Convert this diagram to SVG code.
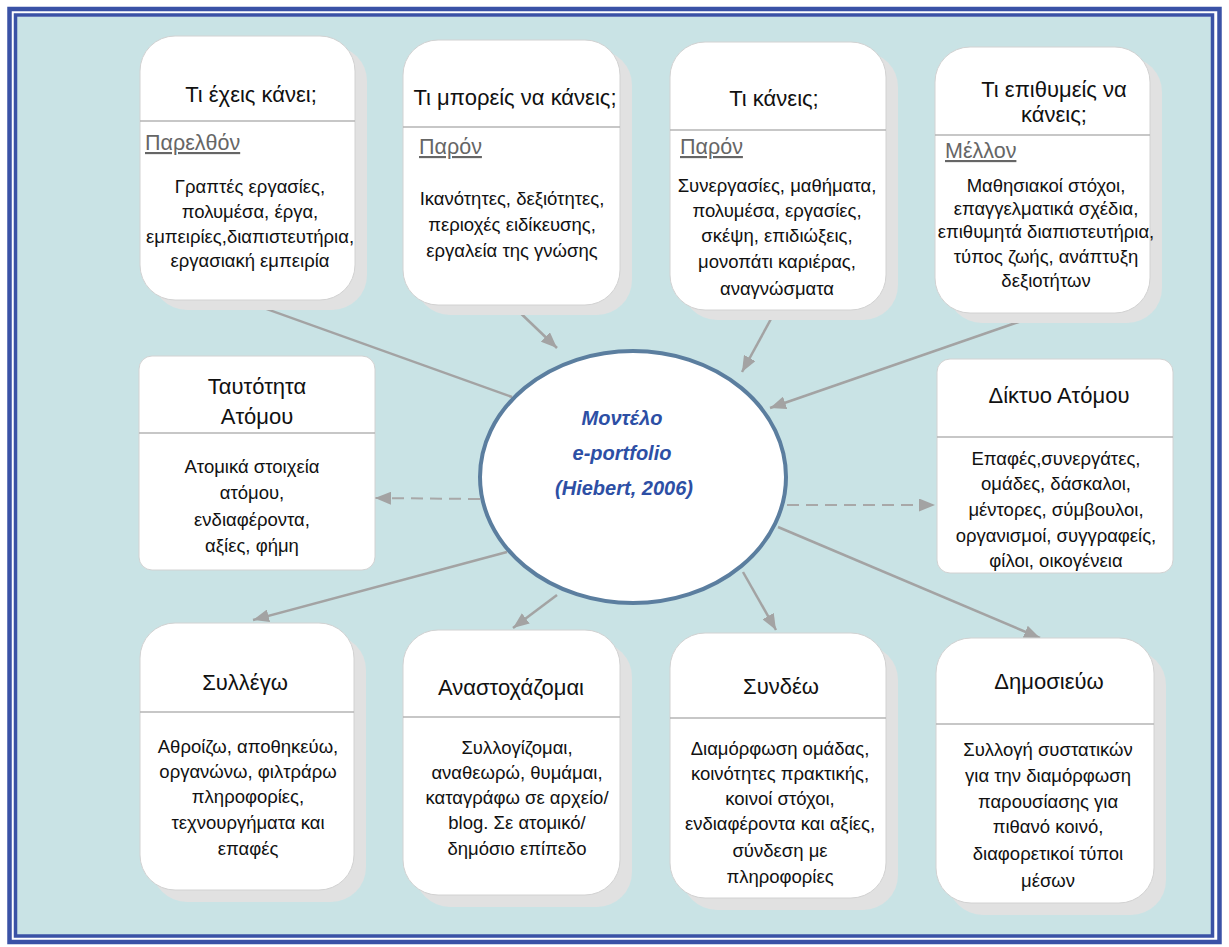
<svg xmlns="http://www.w3.org/2000/svg" width="1229" height="947" viewBox="0 0 1229 947">
<defs>
<style>
.bg{fill:#c9e3e5}
.frameO{fill:none;stroke:#3a52a6;stroke-width:4.5}
.frameI{fill:none;stroke:#3a52a6;stroke-width:3.5}
.shadow{fill:#e1e1e1}
.box{fill:#fff;stroke:#d2d2d2;stroke-width:1}
.div{stroke:#b4b4b4;stroke-width:1.5}
.t{font-family:"Liberation Sans",Arial,sans-serif;fill:#111}
.title{font-size:22px;text-anchor:middle}
.body{font-size:18.5px;text-anchor:middle}
.tag{font-size:21.5px;fill:#666;text-decoration:underline}
.conn{stroke:#a3a3a3;stroke-width:2.5;fill:none}
.dash{stroke:#a8a8a8;stroke-width:2;fill:none;stroke-dasharray:12 7}
.ell{fill:#fff;stroke:#5b7e9f;stroke-width:4}
.et{font-family:"Liberation Sans",Arial,sans-serif;font-size:20px;font-weight:bold;font-style:italic;fill:#2d4fa5;text-anchor:middle}
</style>
<marker id="ah" markerUnits="userSpaceOnUse" markerWidth="17" markerHeight="13" refX="16" refY="6.5" orient="auto">
<path d="M0,0 L16,6.5 L0,13 z" fill="#a3a3a3"/>
</marker>
</defs>
<rect width="1229" height="947" fill="#fff"/>
<rect class="bg" x="17" y="17" width="1195" height="920"/>
<rect class="frameO" x="9.5" y="9" width="1210" height="933"/>
<rect class="frameI" x="15.5" y="15" width="1197" height="921"/>

<g id="connectors">
<line class="conn" x1="247" y1="302" x2="512" y2="397"/>
<line class="conn" x1="512" y1="305" x2="557" y2="348" marker-end="url(#ah)"/>
<line class="conn" x1="777" y1="308" x2="742" y2="372" marker-end="url(#ah)"/>
<line class="conn" x1="1033" y1="317" x2="770" y2="408" marker-end="url(#ah)"/>
<line class="conn" x1="507" y1="552" x2="253" y2="620" marker-end="url(#ah)"/>
<line class="conn" x1="557" y1="595" x2="513" y2="628" marker-end="url(#ah)"/>
<line class="conn" x1="743" y1="572" x2="776" y2="630" marker-end="url(#ah)"/>
<line class="conn" x1="778" y1="527" x2="1040" y2="638" marker-end="url(#ah)"/>
<line class="dash" x1="480" y1="499" x2="375" y2="498" marker-end="url(#ah)"/>
<line class="dash" x1="787" y1="505" x2="935" y2="505" marker-end="url(#ah)"/>
</g>

<g id="center">
<ellipse class="ell" cx="633" cy="477" rx="153" ry="126"/>
<text class="et" x="622" y="425">Μοντέλο</text>
<text class="et" x="622" y="460">e-portfolio</text>
<text class="et" x="624" y="495">(Hiebert, 2006)</text>
</g>

<g id="n-past">
<rect class="shadow" x="152" y="46" width="215" height="264" rx="35"/>
<rect class="box" x="140" y="36" width="215" height="264" rx="35"/>
<line class="div" x1="140" y1="121" x2="355" y2="121"/>
<text class="t title" x="251" y="102">Τι έχεις κάνει;</text>
<text class="t tag" x="145" y="150">Παρελθόν</text>
<text class="t body" x="250"><tspan x="250" y="193">Γραπτές εργασίες,</tspan><tspan x="250" y="218">πολυμέσα, έργα,</tspan><tspan x="250" y="243">εμπειρίες,διαπιστευτήρια,</tspan><tspan x="250" y="267">εργασιακή εμπειρία</tspan></text>
</g>

<g id="n-can">
<rect class="shadow" x="415" y="50" width="217" height="265" rx="35"/>
<rect class="box" x="403" y="40" width="217" height="265" rx="35"/>
<line class="div" x1="403" y1="127" x2="620" y2="127"/>
<text class="t title" x="515" y="105">Τι μπορείς να κάνεις;</text>
<text class="t tag" x="419" y="154">Παρόν</text>
<text class="t body"><tspan x="512" y="205">Ικανότητες, δεξιότητες,</tspan><tspan x="512" y="231">περιοχές ειδίκευσης,</tspan><tspan x="512" y="257">εργαλεία της γνώσης</tspan></text>
</g>

<g id="n-do">
<rect class="shadow" x="682" y="52" width="216" height="268" rx="35"/>
<rect class="box" x="670" y="42" width="216" height="268" rx="35"/>
<line class="div" x1="670" y1="130" x2="886" y2="130"/>
<text class="t title" x="774" y="106">Τι κάνεις;</text>
<text class="t tag" x="680" y="154">Παρόν</text>
<text class="t body"><tspan x="777" y="192">Συνεργασίες, μαθήματα,</tspan><tspan x="777" y="217">πολυμέσα, εργασίες,</tspan><tspan x="777" y="242">σκέψη, επιδιώξεις,</tspan><tspan x="777" y="268">μονοπάτι καριέρας,</tspan><tspan x="777" y="295">αναγνώσματα</tspan></text>
</g>

<g id="n-future">
<rect class="shadow" x="947" y="57" width="215" height="266" rx="35"/>
<rect class="box" x="935" y="47" width="215" height="266" rx="35"/>
<line class="div" x1="935" y1="135" x2="1150" y2="135"/>
<text class="t title"><tspan x="1054" y="97">Τι επιθυμείς να</tspan><tspan x="1054" y="122">κάνεις;</tspan></text>
<text class="t tag" x="945" y="158">Μέλλον</text>
<text class="t body"><tspan x="1046" y="192">Μαθησιακοί στόχοι,</tspan><tspan x="1046" y="215">επαγγελματικά σχέδια,</tspan><tspan x="1046" y="238">επιθυμητά διαπιστευτήρια,</tspan><tspan x="1046" y="263">τύπος ζωής, ανάπτυξη</tspan><tspan x="1046" y="287">δεξιοτήτων</tspan></text>
</g>

<g id="n-identity">
<rect class="box" x="139" y="356" width="236" height="214" rx="13"/>
<line class="div" x1="139" y1="433" x2="375" y2="433"/>
<text class="t title"><tspan x="257" y="394">Ταυτότητα</tspan><tspan x="257" y="424">Ατόμου</tspan></text>
<text class="t body"><tspan x="252" y="473">Ατομικά στοιχεία</tspan><tspan x="252" y="499">ατόμου,</tspan><tspan x="252" y="526">ενδιαφέροντα,</tspan><tspan x="252" y="552">αξίες, φήμη</tspan></text>
</g>

<g id="n-network">
<rect class="box" x="937" y="359" width="236" height="214" rx="13"/>
<line class="div" x1="937" y1="437" x2="1173" y2="437"/>
<text class="t title" x="1059" y="403">Δίκτυο Ατόμου</text>
<text class="t body"><tspan x="1056" y="465">Επαφές,συνεργάτες,</tspan><tspan x="1056" y="490">ομάδες, δάσκαλοι,</tspan><tspan x="1056" y="516">μέντορες, σύμβουλοι,</tspan><tspan x="1056" y="542">οργανισμοί, συγγραφείς,</tspan><tspan x="1056" y="567">φίλοι, οικογένεια</tspan></text>
</g>

<g id="n-collect">
<rect class="shadow" x="152" y="635" width="214" height="267" rx="35"/>
<rect class="box" x="140" y="623" width="214" height="267" rx="35"/>
<line class="div" x1="140" y1="712" x2="354" y2="712"/>
<text class="t title" x="245" y="690">Συλλέγω</text>
<text class="t body"><tspan x="248" y="753">Αθροίζω, αποθηκεύω,</tspan><tspan x="248" y="778">οργανώνω, φιλτράρω</tspan><tspan x="248" y="803">πληροφορίες,</tspan><tspan x="248" y="829">τεχνουργήματα και</tspan><tspan x="248" y="855">επαφές</tspan></text>
</g>

<g id="n-reflect">
<rect class="shadow" x="415" y="642" width="217" height="265" rx="35"/>
<rect class="box" x="403" y="630" width="217" height="265" rx="35"/>
<line class="div" x1="403" y1="717" x2="620" y2="717"/>
<text class="t title" x="511" y="695">Αναστοχάζομαι</text>
<text class="t body"><tspan x="517" y="754">Συλλογίζομαι,</tspan><tspan x="517" y="779">αναθεωρώ, θυμάμαι,</tspan><tspan x="517" y="804">καταγράφω σε αρχείο/</tspan><tspan x="517" y="829">blog. Σε ατομικό/</tspan><tspan x="517" y="855">δημόσιο επίπεδο</tspan></text>
</g>

<g id="n-connect">
<rect class="shadow" x="682" y="645" width="216" height="265" rx="35"/>
<rect class="box" x="670" y="633" width="216" height="265" rx="35"/>
<line class="div" x1="670" y1="718" x2="886" y2="718"/>
<text class="t title" x="781" y="694">Συνδέω</text>
<text class="t body"><tspan x="780" y="755">Διαμόρφωση ομάδας,</tspan><tspan x="780" y="780">κοινότητες πρακτικής,</tspan><tspan x="780" y="805">κοινοί στόχοι,</tspan><tspan x="780" y="830">ενδιαφέροντα και αξίες,</tspan><tspan x="780" y="857">σύνδεση με</tspan><tspan x="780" y="883">πληροφορίες</tspan></text>
</g>

<g id="n-publish">
<rect class="shadow" x="948" y="650" width="218" height="265" rx="35"/>
<rect class="box" x="936" y="638" width="218" height="265" rx="35"/>
<line class="div" x1="936" y1="724" x2="1154" y2="724"/>
<text class="t title" x="1049" y="689">Δημοσιεύω</text>
<text class="t body"><tspan x="1048" y="756">Συλλογή συστατικών</tspan><tspan x="1048" y="782">για την διαμόρφωση</tspan><tspan x="1048" y="808">παρουσίασης για</tspan><tspan x="1048" y="833">πιθανό κοινό,</tspan><tspan x="1048" y="860">διαφορετικοί τύποι</tspan><tspan x="1048" y="887">μέσων</tspan></text>
</g>
</svg>
